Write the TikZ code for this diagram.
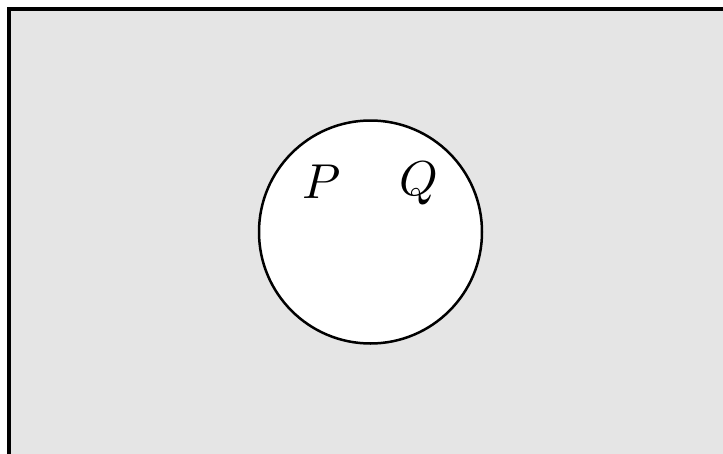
\documentclass[tikz,border=0pt]{standalone}
\definecolor{bg}{HTML}{E5E5E5}
\begin{document}
\begin{tikzpicture}[x=1pt,y=-1pt,
  lbl/.style={inner sep=0pt}]
\useasboundingbox (0,0) rectangle (723,453);
\path[fill=white] (0,0) rectangle (723,453);
\draw[fill=bg, line width=3.5pt] (9,9) rectangle (740,470);
\draw[fill=white, line width=2.5pt] (370.5,232) circle (111.5);
\node[lbl] (p) at (322,182) {\scalebox{4.9}{$P$}};
\node[lbl] (q) at (419,184) {\scalebox{4.9}{$Q$}};
\end{tikzpicture}
\end{document}
